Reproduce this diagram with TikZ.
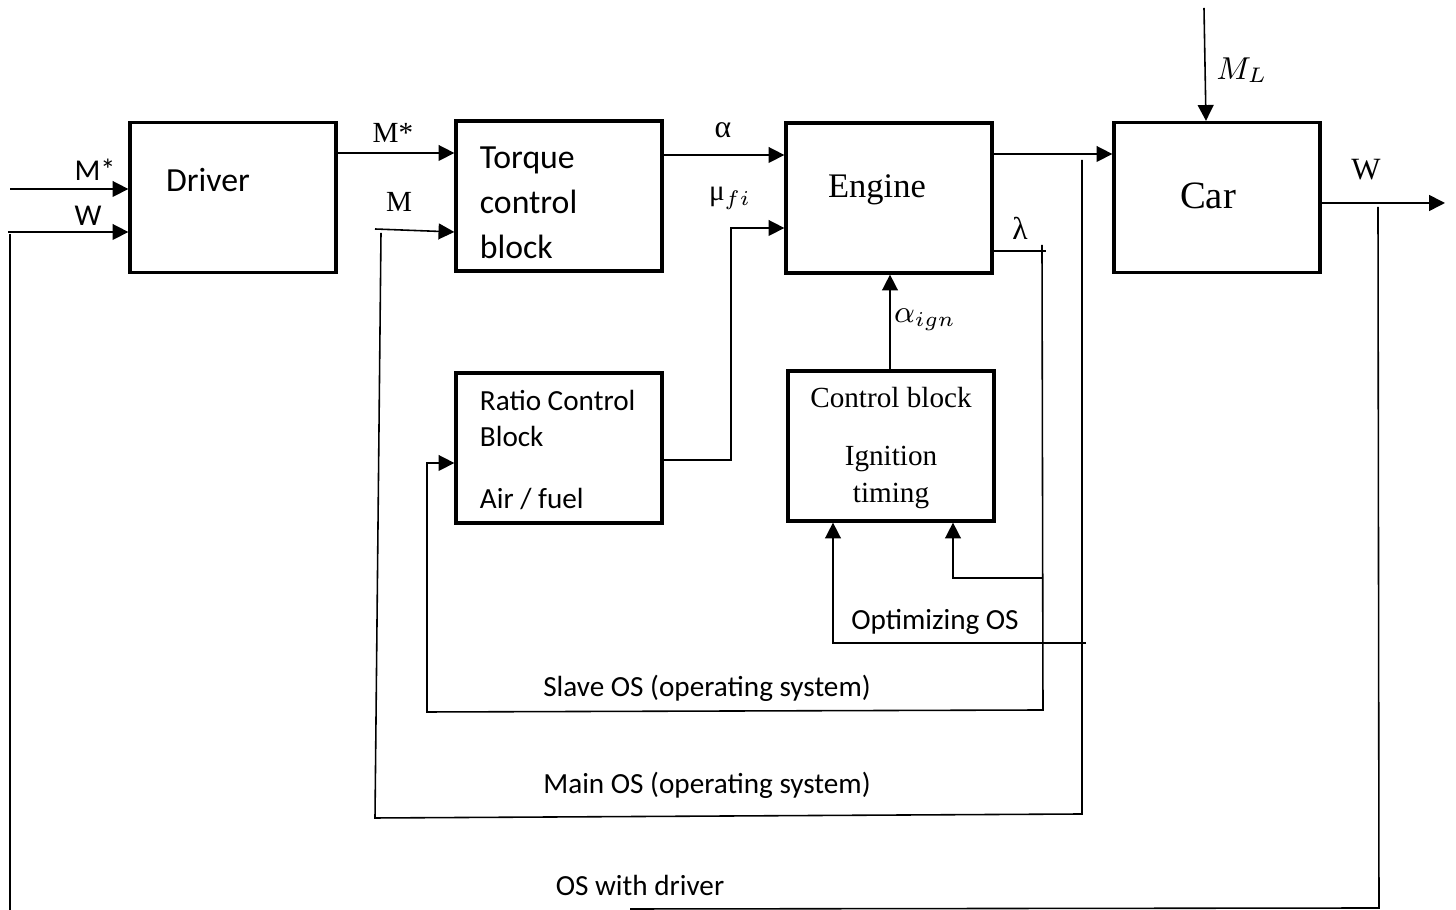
\documentclass[tikz,border=0pt]{standalone}
\usepackage{fontspec}
\setmainfont{Liberation Serif}
\newfontfamily\calibri{Carlito}
\usetikzlibrary{arrows.meta,positioning,calc}

\begin{document}
\begin{tikzpicture}[x=0.01cm, y=-0.01cm,
  block/.style={rectangle, draw, line width=0.9pt, minimum width=2.06cm,
                minimum height=1.5cm, inner sep=0pt},
  wire/.style={line width=0.45pt},
  sig/.style={wire, -{Triangle[length=4.5pt, width=4.5pt]}},
  bigcal/.style={font=\calibri\fontsize{9.6}{12.8}\selectfont},
  cal/.style={font=\calibri\fontsize{8.3}{10.5}\selectfont},
  rm/.style={font=\fontsize{8.3}{10.5}\selectfont},
  sym/.style={font=\fontsize{9}{11}\selectfont}
]
\useasboundingbox (0,0) rectangle (1456,910);

% blocks
\node[block] (driver) at (233,197.5) {};
\node[bigcal] (driverTxt) at (208,180) {Driver};
\node[block] (torque) at (559,196) {};
\node[bigcal, align=flush left, text width=1.58cm] (torqueTxt) at (559,203)
      {Torque\\control\\block};
\node[block] (engine) at (889,198) {};
\node[font=\fontsize{9.8}{12}\selectfont] (engineTxt) at (877,190) {Engine};
\node[block] (car) at (1217,197.5) {};
\node[font=\fontsize{11}{13}\selectfont] (carTxt) at (1208,196) {Car};
\node[block] (ratio) at (559,448) {};
\node[cal, align=flush left, text width=1.58cm] (ratioTxt) at (559,450)
      {Ratio Control\\Block\\[2.5mm]Air / fuel};
\node[block] (ignition) at (891,446) {};
\node[rm, align=center] (ignitionTxt) at (891,448)
      {Control block\\[2.1mm]Ignition\\timing};

% inputs of the driver
\coordinate (inMs) at (10,189);
\coordinate (inW) at (8,232);
\draw[sig] (inMs) -- (driver.west |- inMs);
\draw[sig] (inW) -- (driver.west |- inW);
\node[font=\calibri\fontsize{8.6}{10}\selectfont] (lMsIn) at (95,170) {M*};
\node[font=\calibri\fontsize{8.6}{10}\selectfont] (lWIn) at (88,216) {W};

% forward path
\draw[sig] (driver.east |- 0,153) -- (torque.west |- 0,153);
\node[rm] (lMs) at (393,133) {M*};
\coordinate (mIn) at (375,229);
\draw[sig] (mIn) -- (torque.west |- 0,232);
\node[rm] (lM) at (399,202) {M};
\draw[sig] (torque.east |- 0,155) -- (engine.west |- 0,155);
\node[sym] (lAlpha) at (723,130) {α};
\draw[sig] (ratio.east |- 0,460) -- (731,460) -- (731,228) -- (engine.west |- 0,228);
\node[rm] (lMu) at (730,198) {μ$_{fi}$};
\draw[sig] (engine.east |- 988,154) -- (car.west |- 0,154);
\coordinate (mlTop) at (1204,8);
\draw[sig] (mlTop) -- (car.north -| 1206,0);
\node[sym] (lML) at (1242,70) {$M_L$};
\coordinate (wOut) at (1445,203);
\draw[sig] (car.east |- wOut) -- (wOut);
\node[font=\fontsize{8.8}{11}\selectfont] (lWOut) at (1366,170) {W};
\draw[sig] (ignition.north -| 890,0) -- (engine.south -| 890,0);
\node[sym] (lAign) at (925,320) {$\alpha_{ign}$};

% lambda and slave OS
\draw[wire] (engine.east |- 0,251) -- (1046,251);
\node[sym] (lLambda) at (1020,228) {λ};
\draw[sig] (1042,245) -- (1043,710) -- (427,712) -- (427,463) -- (ratio.west |- 0,463);
\draw[sig] (1042,578) -- (953,578) -- (ignition.south -| 953,0);
\node[cal] (lSlave) at (707,688) {Slave OS (operating system)};

% optimizing OS
\draw[sig] (1086,643) -- (833,643) -- (ignition.south -| 833,0);
\node[cal] (lOpt) at (935,622) {Optimizing OS};

% main OS
\draw[wire] (1082,160) -- (1082,814) -- (375,818) -- (381,233);
\node[cal] (lMain) at (707,785) {Main OS (operating system)};

% OS with driver
\draw[wire] (1378,207) -- (1379,908) -- (630,909);
\draw[wire] (10,234) -- (10,910);
\node[cal] (lDrv) at (640,885) {OS with driver};
\end{tikzpicture}
\end{document}
